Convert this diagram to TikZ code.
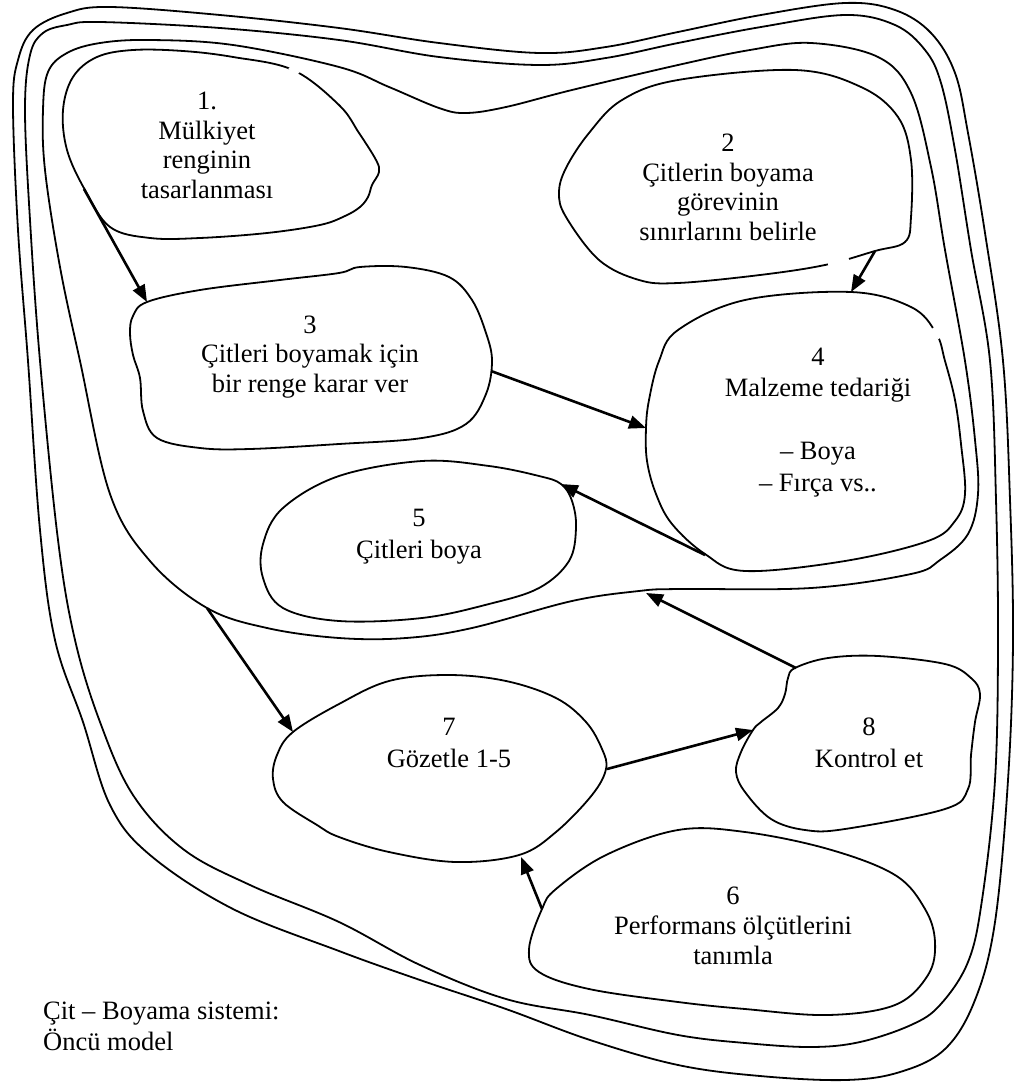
\documentclass[tikz,border=0pt]{standalone}
\usepackage{fontspec}
\setmainfont{Liberation Serif}
\usetikzlibrary{arrows.meta}

\begin{document}
\begin{tikzpicture}[x=1pt,y=-1pt,
  outline/.style={line width=1.8pt, line join=round},
  gap/.style={white, line width=5pt},
  flow/.style={line width=2.6pt, -{Triangle[length=17pt,width=13pt]}},
  label/.style={inner sep=0pt, anchor=base, font=\fontsize{26.5}{#1}\selectfont},
  label/.default=29.5,
]
\useasboundingbox (0,0) rectangle (1017,1083);

% outer system boundary (two rings)
\draw[outline] plot[smooth cycle, tension=0.6] coordinates {
  (13,105) (18,60) (33,30) (67,13) (110,7) (220,15) (339,28) (439,43) (539,53)
  (606,47) (678,32) (761,15) (845,3) (895,10) (931,33) (955,73) (968,133)
  (985,233) (1003,361) (1010,500) (1013,640) (1008,780) (995,922) (975,1000)
  (945,1049) (900,1072) (845,1080) (760,1076) (678,1065) (590,1040) (506,1009)
  (420,980) (339,951) (233,909) (150,855) (110,805) (83,722) (55,640) (40,530)
  (28,361) (18,230)};
\draw[outline] plot[smooth cycle, tension=0.6] coordinates {
  (25,110) (30,55) (43,33) (67,25) (100,22) (220,28) (339,40) (439,57) (539,65)
  (606,58) (678,43) (761,27) (845,15) (895,25) (925,50) (941,83) (955,150)
  (971,250) (990,361) (996,500) (998,640) (995,780) (982,900) (968,962)
  (940,1005) (911,1025) (860,1042) (811,1047) (745,1043) (678,1035) (590,1015)
  (506,999) (420,965) (339,922) (250,885) (183,849) (133,795) (100,722)
  (75,640) (58,540) (40,361) (30,220)};

% inner boundary around steps 1-5
\draw[outline] plot[smooth cycle, tension=0.6] coordinates {
  (43,110) (48,72) (67,53) (100,43) (150,40) (233,45) (339,67) (389,87)
  (439,108) (466,113) (506,107) (572,90) (678,65) (750,50) (811,43) (878,57)
  (911,93) (931,167) (945,250) (965,361) (975,440) (978,494) (968,534)
  (940,560) (911,574) (811,588) (678,589) (639,591) (572,601) (472,628)
  (406,638) (339,638) (267,628) (207,608) (150,561) (110,494) (80,361)
  (60,267) (45,170)};

% step outlines
\draw[outline] plot[smooth cycle, tension=0.6] coordinates {
  (63,110) (73,77) (97,57) (133,50) (183,51) (233,57) (293,70) (339,105)
  (359,133) (376,160) (379,172) (372,185) (368,197) (360,207) (345,216)
  (320,225) (267,233) (200,238) (150,238) (110,227) (85,190) (67,150)};
\draw[outline] plot[smooth cycle, tension=0.6] coordinates {
  (622,100) (678,80) (795,70) (861,87) (898,117) (911,160) (911,217)
  (905,242) (875,251) (825,265) (760,275) (678,283) (639,280) (599,260)
  (566,217) (559,193) (566,168) (589,133)};
\draw[outline] plot[smooth cycle, tension=0.6] coordinates {
  (147,302) (200,290) (280,280) (339,273) (360,267) (406,267) (449,277)
  (472,300) (486,333) (492,361) (486,394) (466,424) (422,438) (339,444)
  (250,449) (200,448) (157,438) (143,411) (140,378) (133,355) (130,333)
  (133,316)};
\draw[outline] plot[smooth cycle, tension=0.6] coordinates {
  (646,428) (647,461) (656,494) (672,524) (705,554) (745,571) (845,561)
  (928,541) (955,521) (965,494) (961,444) (955,400) (945,361) (936,333)
  (911,307) (851,292) (745,300) (678,330) (659,361) (649,400)};
\draw[outline] plot[smooth cycle, tension=0.6] coordinates {
  (263,544) (283,508) (339,476) (422,461) (489,466) (539,476) (561,484)
  (572,501) (576,528) (569,561) (539,588) (489,604) (422,618) (339,621)
  (283,608) (263,578)};
\draw[outline] plot[smooth cycle, tension=0.6] coordinates {
  (293,732) (277,755) (273,779) (283,802) (317,825) (339,837) (389,852)
  (456,862) (519,855) (556,832) (592,795) (606,769) (602,749) (586,722)
  (556,698) (506,681) (448,675) (389,681) (339,704)};
\draw[outline] plot[smooth cycle, tension=0.6] coordinates {
  (753,730) (741,752) (736,772) (745,792) (771,819) (805,830) (845,829)
  (945,809) (968,789) (971,755) (975,722) (980,694) (971,678) (945,664)
  (878,656) (828,658) (795,668) (788,678) (785,694) (778,708) (761,722)};
\draw[outline] plot[smooth cycle, tension=0.6] coordinates {
  (542,909) (529,949) (539,972) (589,989) (678,1002) (745,1009) (828,1015)
  (895,1005) (928,975) (935,942) (925,909) (895,875) (828,849) (745,832)
  (678,830) (606,855) (556,889)};

% small breaks in the outlines
\draw[gap] (290,67) -- (298,74);
\draw[gap] (828,264) -- (849,260);
\draw[gap] (933,328) -- (940,338);

% step texts
\node[label] (t1) at (207,110) {\begin{tabular}[t]{@{}c@{}}1.\\Mülkiyet\\renginin\\tasarlanması\end{tabular}};
\node[label] (t2) at (728,152) {\begin{tabular}[t]{@{}c@{}}2\\Çitlerin boyama\\görevinin\\sınırlarını belirle\end{tabular}};
\node[label] (t3) at (310,333) {\begin{tabular}[t]{@{}c@{}}3\\Çitleri boyamak için\\bir renge karar ver\end{tabular}};
\node[label=31.5] (t4) at (818,365) {\begin{tabular}[t]{@{}c@{}}4\\Malzeme tedariği\\[0pt]\\– Boya\\– Fırça vs..\end{tabular}};
\node[label=32] (t5) at (419,526) {\begin{tabular}[t]{@{}c@{}}5\\Çitleri boya\end{tabular}};
\node[label=32] (t7) at (449,735) {\begin{tabular}[t]{@{}c@{}}7\\Gözetle 1-5\end{tabular}};
\node[label=32] (t8) at (869,735) {\begin{tabular}[t]{@{}c@{}}8\\Kontrol et\end{tabular}};
\node[label=30] (t6) at (733,904) {\begin{tabular}[t]{@{}c@{}}6\\Performans ölçütlerini\\tanımla\end{tabular}};
\node[label=31, anchor=base west] (cap) at (43,1019) {\begin{tabular}[t]{@{}l@{}}Çit – Boyama sistemi:\\Öncü model\end{tabular}};

% connector end points on the outlines
\coordinate (s1) at (84,189);   \coordinate (e3) at (147,302);
\coordinate (s2) at (875,251);  \coordinate (e4a) at (851,292);
\coordinate (s3) at (491,371);  \coordinate (e4b) at (646,428);
\coordinate (s4) at (705,555);  \coordinate (e5) at (561,484);
\coordinate (s5) at (207,608);  \coordinate (e7a) at (293,732);
\coordinate (s7) at (607,769);  \coordinate (e8) at (753,730);
\coordinate (s8) at (796,668);  \coordinate (eb) at (646,593);
\coordinate (s6) at (542,909);  \coordinate (e7b) at (521,857);

\draw[flow] (s1) -- (e3);
\draw[flow] (s2) -- (e4a);
\draw[flow] (s3) -- (e4b);
\draw[flow] (s4) -- (e5);
\draw[flow] (s5) -- (e7a);
\draw[flow] (s7) -- (e8);
\draw[flow] (s8) -- (eb);
\draw[flow] (s6) -- (e7b);
\end{tikzpicture}
\end{document}
